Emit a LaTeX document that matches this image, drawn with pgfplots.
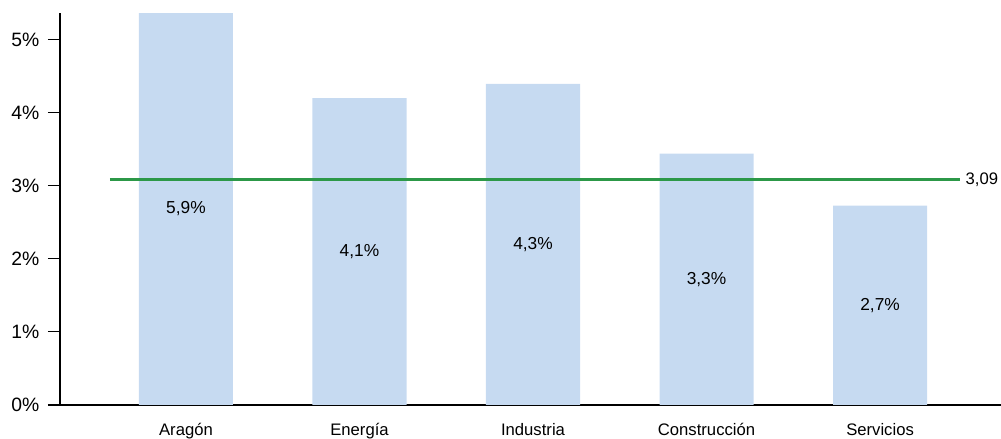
\documentclass[border=0pt]{standalone}
\usepackage{fontspec}
\setmainfont{Liberation Sans}
\usepackage{pgfplots}
\pgfplotsset{compat=1.18}
\definecolor{barblue}{RGB}{198,218,241}
\definecolor{refgreen}{RGB}{44,152,72}
\begin{document}
\begin{tikzpicture}
\begin{axis}[
  name=ax,
  scale only axis,
  width=705.75pt, height=294pt,
  xmin=-0.726, xmax=4.697,
  ymin=0, ymax=5.365,
  axis x line*=bottom, axis y line*=left,
  axis line style={black, line width=0.8pt},
  tick align=outside,
  major tick length=9pt,
  ytick={0,1,2,3,4,5},
  yticklabels={0\%,1\%,2\%,3\%,4\%,5\%},
  ytick style={black, line width=0.8pt},
  yticklabel style={font=\fontsize{14.5}{17}\selectfont, xshift=-3pt},
  xtick={0,1,2,3,4},
  xticklabels={Aragón,Energía,Industria,Construcción,Servicios},
  xtick style={draw=none},
  xticklabel style={font=\fontsize{12.5}{15}\selectfont, anchor=base, yshift=-13.8pt},
]
  % bars
  \addplot[ybar, bar width=0.542, fill=barblue, draw=none]
    coordinates {(0,5.9) (1,4.2) (2,4.395) (3,3.44) (4,2.728)};
  % reference line
  \addplot[refgreen, line width=2.2pt]
    coordinates {(-0.438,3.08) (4.461,3.08)};
  % labels in the middle of the bars
  \addplot[draw=none, nodes near coords, point meta=explicit symbolic,
    every node near coord/.style={anchor=center, font=\fontsize{13}{15}\selectfont, text=black}]
    coordinates {(0,2.687) [5,9\%] (1,2.10) [4,1\%] (2,2.20) [4,3\%] (3,1.72) [3,3\%] (4,1.364) [2,7\%]};
  \node[anchor=west, font=\fontsize{12.5}{15}\selectfont, inner sep=0pt, xshift=4pt] at (axis cs:4.461,3.08) {3,09};
\end{axis}
\pgfresetboundingbox
\path ([xshift=-45pt, yshift=-25.5pt]ax.south west) rectangle ([yshift=9.75pt]ax.north east);
\end{tikzpicture}
\end{document}
